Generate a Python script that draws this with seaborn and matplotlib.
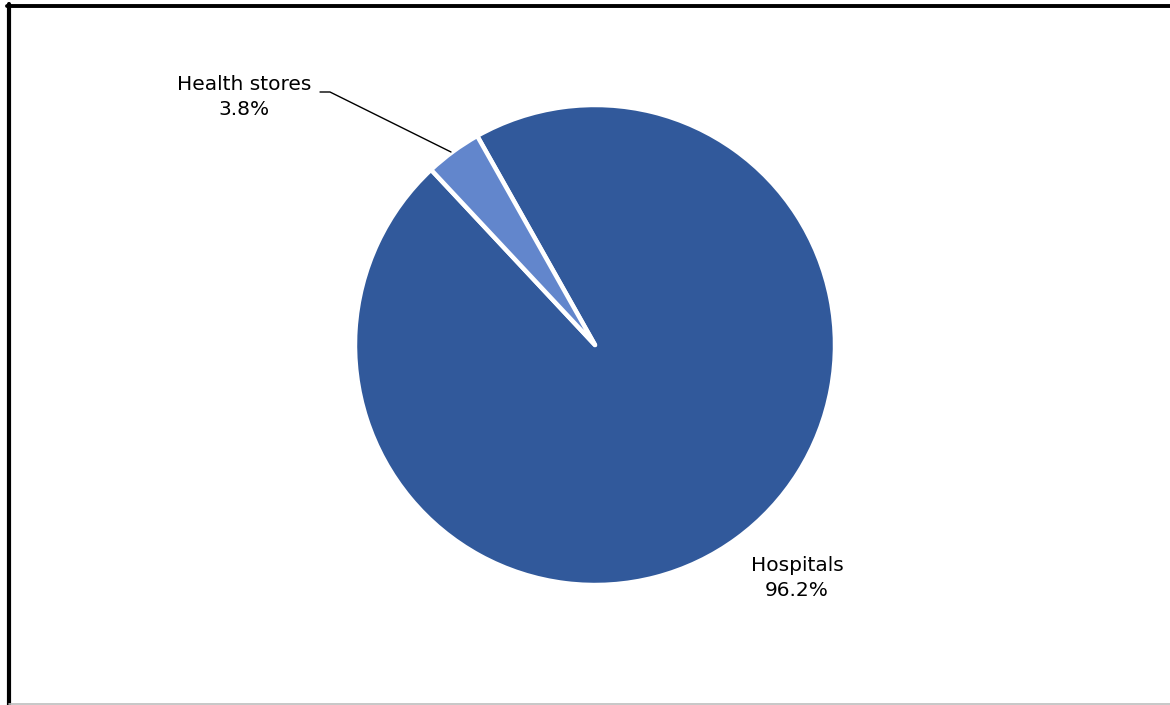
import matplotlib
matplotlib.use("Agg")
import matplotlib.pyplot as plt
import seaborn as sns
from matplotlib.lines import Line2D

categories = ["Hospitals", "Health stores"]
values = [96.2, 3.8]
pct_labels = ["96.2%", "3.8%"]
colors = ["#31599B", "#6286CC"]

sns.set_theme(style="white")
plt.rcParams['font.family'] = ['DejaVu Sans']

W, H = 1170, 705
fig = plt.figure(figsize=(W / 100, H / 100), dpi=100)
fig.patch.set_facecolor("white")

cx, cy, r = 595, 345, 240
ax = fig.add_axes([(cx - r) / W, (H - cy - r) / H, 2 * r / W, 2 * r / H])
ax.pie(values, colors=colors, startangle=119.4, counterclock=False,
       radius=1.0, wedgeprops=dict(edgecolor="white", linewidth=3.2, joinstyle="round"))
ax.set_xlim(-1, 1)
ax.set_ylim(-1, 1)
ax.set_aspect("equal")
ax.axis("off")

def d(px, py):
    return ((px - cx) / r, (cy - py) / r)

# labels
hx, hy = d(244, 97)
ax.text(hx, hy, f"{categories[1]}\n{pct_labels[1]}", ha="center", va="center",
        fontsize=14.5, color="black", linespacing=1.45)
px_, py_ = d(797, 578)
ax.text(px_, py_, f"{categories[0]}\n{pct_labels[0]}", ha="center", va="center",
        fontsize=14.5, color="black", linespacing=1.45)

# leader line
pts = [d(320, 92), d(330, 92), d(451, 152)]
ax.add_line(Line2D([p[0] for p in pts], [p[1] for p in pts], color="black",
                   linewidth=1.0, clip_on=False))

# frame
fig.add_artist(Line2D([7 / W, 1], [1 - 5.5 / H, 1 - 5.5 / H], color="black",
                      linewidth=2.8, transform=fig.transFigure))
fig.add_artist(Line2D([9 / W, 9 / W], [1 - 4 / H, 0], color="black",
                      linewidth=3.0, transform=fig.transFigure))
fig.add_artist(Line2D([9 / W, 1], [1.5 / H, 1.5 / H], color="#BEBEBE",
                      linewidth=1.2, transform=fig.transFigure))

fig.savefig("out.png", dpi=100, facecolor="white")
